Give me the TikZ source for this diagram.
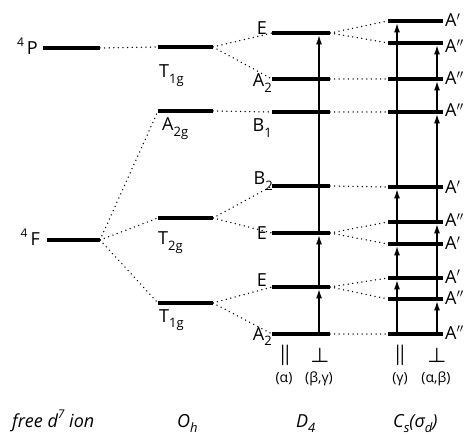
\documentclass[tikz,border=0pt]{standalone}
\usepackage{fontspec}
\setmainfont{Open Sans}
\usetikzlibrary{arrows.meta}
\newcommand\mklevel[4]{%
  \coordinate (#1-l) at (#2,#4);
  \coordinate (#1-r) at (#3,#4);
  \draw[lev] (#1-l) -- (#1-r);}
\newcommand\sbs[1]{\raisebox{-0.28em}{\fontsize{13}{14}\selectfont #1}}
\newcommand\sps[1]{\raisebox{0.45em}{\fontsize{12}{14}\selectfont #1}}
\begin{document}
\begin{tikzpicture}[x=1pt,y=-1pt,
  lev/.style={line width=3.2pt},
  dotl/.style={line width=1.5pt, line cap=round, dash pattern=on 0pt off 4.6pt},
  trans/.style={line width=1.9pt, -{Latex[length=10pt,width=6pt]}, shorten >=1.4pt},
  lab/.style={font=\fontsize{18}{20}\selectfont, inner sep=0pt},
  blab/.style={font=\fontsize{18}{20}\selectfont\itshape, inner sep=0pt, anchor=base west},
  pol/.style={font=\fontsize{20}{22}\selectfont\boldmath, inner sep=0pt},
  plab/.style={font=\fontsize{14}{16}\selectfont, inner sep=0pt}]
\useasboundingbox (0,0) rectangle (473,435);
% free ion
\mklevel{fP}{43}{100}{48}
\mklevel{fF}{47}{100}{240}
% Oh
\mklevel{oT1a}{158}{213}{47}
\mklevel{oA2g}{158}{213}{111}
\mklevel{oT2g}{158}{213}{218}
\mklevel{oT1b}{158}{213}{303}
% D4
\mklevel{dE1}{272}{330}{33}
\mklevel{dA2a}{272}{330}{79}
\mklevel{dB1}{272}{330}{112}
\mklevel{dB2}{272}{330}{186}
\mklevel{dE2}{272}{330}{233}
\mklevel{dE3}{272}{330}{287}
\mklevel{dA2b}{272}{330}{334}
% Cs
\mklevel{c1}{388}{443}{21}
\mklevel{c2}{388}{443}{43}
\mklevel{c3}{388}{443}{79}
\mklevel{c4}{388}{443}{112}
\mklevel{c5}{388}{443}{187}
\mklevel{c6}{388}{443}{222}
\mklevel{c7}{388}{443}{244}
\mklevel{c8}{388}{443}{278}
\mklevel{c9}{388}{443}{299}
\mklevel{c10}{388}{443}{334}
% correlation lines
\draw[dotl] (fP-r) -- (oT1a-l);
\draw[dotl] (fF-r) -- (oA2g-l);
\draw[dotl] (fF-r) -- (oT2g-l);
\draw[dotl] (fF-r) -- (oT1b-l);
\draw[dotl] (oT1a-r) -- (dE1-l);
\draw[dotl] (oT1a-r) -- (dA2a-l);
\draw[dotl] (oA2g-r) -- (dB1-l);
\draw[dotl] (oT2g-r) -- (dB2-l);
\draw[dotl] (oT2g-r) -- (dE2-l);
\draw[dotl] (oT1b-r) -- (dE3-l);
\draw[dotl] (oT1b-r) -- (dA2b-l);
\draw[dotl] (dE1-r) -- (c1-l);
\draw[dotl] (dE1-r) -- (c2-l);
\draw[dotl] (dA2a-r) -- (c3-l);
\draw[dotl] (dB1-r) -- (c4-l);
\draw[dotl] (dB2-r) -- (c5-l);
\draw[dotl] (dE2-r) -- (c6-l);
\draw[dotl] (dE2-r) -- (c7-l);
\draw[dotl] (dE3-r) -- (c8-l);
\draw[dotl] (dE3-r) -- (c9-l);
\draw[dotl] (dA2b-r) -- (c10-l);
% transitions D4 (perp)
\coordinate (dv0) at (319,334);
\coordinate (dv1) at (319,287);
\coordinate (dv2) at (319,233);
\coordinate (dv3) at (319,33);
\draw[trans] (dv0) -- (dv1);
\draw[trans] (dv1) -- (dv2);
\draw[trans] (dv2) -- (dv3);
% transitions Cs parallel
\coordinate (cl0) at (397,334);
\coordinate (cl1) at (397,278);
\coordinate (cl2) at (397,244);
\coordinate (cl3) at (397,187);
\coordinate (cl4) at (397,21);
\draw[trans] (cl0) -- (cl1);
\draw[trans] (cl1) -- (cl2);
\draw[trans] (cl2) -- (cl3);
\draw[trans] (cl3) -- (cl4);
% transitions Cs perp
\coordinate (cr0) at (437,334);
\coordinate (cr1) at (437,299);
\coordinate (cr2) at (437,222);
\coordinate (cr3) at (437,112);
\coordinate (cr4) at (437,79);
\coordinate (cr5) at (437,43);
\draw[trans] (cr0) -- (cr1);
\draw[trans] (cr1) -- (cr2);
\draw[trans] (cr2) -- (cr3);
\draw[trans] (cr3) -- (cr4);
\draw[trans] (cr4) -- (cr5);
% free ion labels
\node[lab, anchor=base east] (lP) at (38,55) {\sps{4}\,P};
\node[lab, anchor=base east] (lF) at (40,246) {\sps{4}\,F};
% Oh labels
\node[lab, anchor=base west] (lT1a) at (159,78) {T\sbs{1g}};
\node[lab, anchor=base west] (lA2g) at (162,131) {A\sbs{2g}};
\node[lab, anchor=base west] (lT2g) at (158,245) {T\sbs{2g}};
\node[lab, anchor=base west] (lT1b) at (159,322) {T\sbs{1g}};
% D4 labels
\node[lab, anchor=base east] (ldE1) at (267,35) {E};
\node[lab, anchor=base east] (ldA2a) at (272,87) {A\sbs{2}};
\node[lab, anchor=base east] (ldB1) at (272,132) {B\sbs{1}};
\node[lab, anchor=base east] (ldB2) at (273,185) {B\sbs{2}};
\node[lab, anchor=base east] (ldE2) at (267,240) {E};
\node[lab, anchor=base east] (ldE3) at (267,287) {E};
\node[lab, anchor=base east] (ldA2b) at (272,340) {A\sbs{2}};
% Cs labels
\node[lab, anchor=base west] (lc1) at (445,27) {A$'$};
\node[lab, anchor=base west] (lc2) at (445,53) {A$''$};
\node[lab, anchor=base west] (lc3) at (445,85) {A$''$};
\node[lab, anchor=base west] (lc4) at (445,117) {A$''$};
\node[lab, anchor=base west] (lc5) at (445,194) {A$'$};
\node[lab, anchor=base west] (lc6) at (445,227) {A$''$};
\node[lab, anchor=base west] (lc7) at (445,250) {A$'$};
\node[lab, anchor=base west] (lc8) at (445,283) {A$'$};
\node[lab, anchor=base west] (lc9) at (445,304) {A$''$};
\node[lab, anchor=base west] (lc10) at (445,339) {A$''$};
% polarisation labels
\node[pol] (pD1) at (285,355) {$\parallel$};
\node[pol] (pD2) at (320,355) {$\perp$};
\node[plab] (qD1) at (284,379) {(α)};
\node[plab] (qD2) at (319,379) {(β,γ)};
\node[pol] (pC1) at (400,355) {$\parallel$};
\node[pol] (pC2) at (437,355) {$\perp$};
\node[plab] (qC1) at (400,379) {(γ)};
\node[plab] (qC2) at (436,379) {(α,β)};
% group labels
\node[blab] (g1) at (12,427) {free d\sps{7} ion};
\node[blab] (g2) at (177,427) {O\sbs{h}};
\node[blab] (g3) at (296,427) {D\sbs{4}};
\node[blab] (g4) at (393,427) {C\sbs{s}(σ\sbs{d})};
\end{tikzpicture}
\end{document}
